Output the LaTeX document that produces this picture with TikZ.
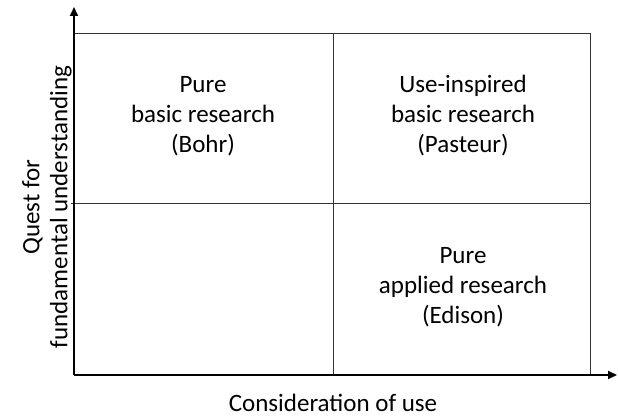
\documentclass[tikz,border=0pt]{standalone}
\usepackage{fontspec}
\setmainfont{Carlito}
\usetikzlibrary{arrows.meta}
\begin{document}
\begin{tikzpicture}[x=1pt,y=-1pt,
  gridline/.style={draw=black!80,line width=0.9pt},
  axis/.style={line width=1.8pt,-{Triangle[length=9pt,width=8pt]}},
  quadtext/.style={align=center,font=\fontsize{25}{30}\selectfont,inner sep=0pt},
  axistext/.style={align=center,font=\fontsize{25}{28}\selectfont,inner sep=0pt}]
\useasboundingbox (0,0) rectangle (618,419);
% quadrant grid
\coordinate (tl) at (74,33);
\coordinate (br) at (590,375);
\draw[gridline] (tl) rectangle (br);
\draw[gridline] (333,33) -- (333,375);
\draw[gridline] (71,203) -- (590,203);
% axes
\coordinate (origin) at (74,375);
\coordinate (ytip) at (74,7);
\coordinate (xtip) at (617,375);
\draw[axis] (origin) -- (ytip);
\draw[axis] (origin) -- (xtip);
% quadrant labels
\node[quadtext] (bohr) at (203,116) {Pure\\basic research\\(Bohr)};
\node[quadtext] (pasteur) at (463,116) {Use-inspired\\basic research\\(Pasteur)};
\node[quadtext] (edison) at (463,287) {Pure\\applied research\\(Edison)};
% axis labels
\node[axistext,rotate=90] (ylabel) at (47,207) {Quest for\\fundamental understanding};
\node[axistext] (xlabel) at (333,403) {Consideration of use};
\end{tikzpicture}
\end{document}
